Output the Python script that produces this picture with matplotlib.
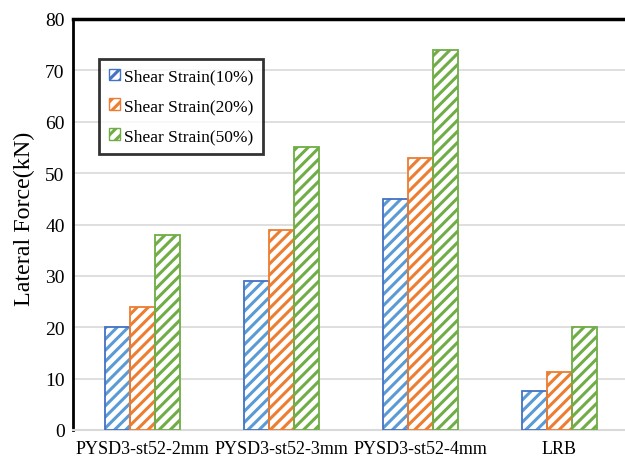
import numpy as np
import matplotlib
matplotlib.use('Agg')
import matplotlib.pyplot as plt
import matplotlib.patches as mpatches

plt.rcParams['font.family'] = ['Liberation Serif', 'DejaVu Serif']
plt.rcParams['hatch.linewidth'] = 2.2

# ── DATA ──────────────────────────────────────────────────────────────
categories = ['PYSD3-st52-2mm', 'PYSD3-st52-3mm', 'PYSD3-st52-4mm', 'LRB']
series_names = ['Shear Strain(10%)', 'Shear Strain(20%)', 'Shear Strain(50%)']
strain_10 = [20, 29, 45, 7.5]
strain_20 = [24, 39, 53, 11.2]
strain_50 = [38, 55, 74, 20]

EDGE = ['#4472C4', '#ED7D31', '#70AD47']
HATCH = ['#5B9BD5', '#ED7D31', '#70AD47']

fig = plt.figure(figsize=(6.25, 4.6), dpi=100)
ax = fig.add_axes([73/625, 1 - 431/460, (629 - 73)/625, (431 - 20)/460])

x = np.arange(len(categories))
w = 0.175
for i, vals in enumerate([strain_10, strain_20, strain_50]):
    ax.bar(x + (i - 1) * (w + 0.006), vals, width=w, facecolor='white',
           edgecolor=HATCH[i], hatch='///', linewidth=0, zorder=3)
    # outline drawn separately so the hatch colour can differ
    ax.bar(x + (i - 1) * (w + 0.006), vals, width=w, facecolor='none',
           edgecolor=EDGE[i], linewidth=1.3, zorder=4)

ax.set_xlim(-0.5, 3.5)
ax.set_ylim(0, 80)
ax.set_yticks(range(0, 81, 10))
ax.set_xticks(x)
ax.set_xticklabels(categories, fontsize=13)
ax.tick_params(axis='y', labelsize=14, length=0, pad=6)
ax.tick_params(axis='x', length=0, pad=7)
ax.yaxis.grid(True, color='#d9d9d9', linewidth=1.2, zorder=0)
ax.set_axisbelow(True)

ax.spines['left'].set_linewidth(2)
ax.spines['left'].set_color('black')
ax.spines['top'].set_linewidth(2.5)
ax.spines['top'].set_color('black')
ax.spines['bottom'].set_color('#d9d9d9')
ax.spines['bottom'].set_linewidth(1.5)
ax.spines['right'].set_visible(False)

ax.set_ylabel('Lateral Force(kN)', fontsize=17.3)
ax.yaxis.set_label_coords(-0.068, 0.516)

handles = [mpatches.Patch(facecolor='white', edgecolor=EDGE[i], hatch='///',
                          linewidth=1, label=series_names[i]) for i in range(3)]
leg = ax.legend(handles=handles, loc='upper left', bbox_to_anchor=(0.047, 0.903),
                fontsize=12.5, frameon=True, fancybox=False, handlelength=0.65,
                handleheight=0.65, handletextpad=0.25, borderpad=0.55,
                labelspacing=0.8, borderaxespad=0)
leg.get_frame().set_edgecolor('black')
leg.get_frame().set_linewidth(2)

fig.savefig('out.png', dpi=100, facecolor='white')
